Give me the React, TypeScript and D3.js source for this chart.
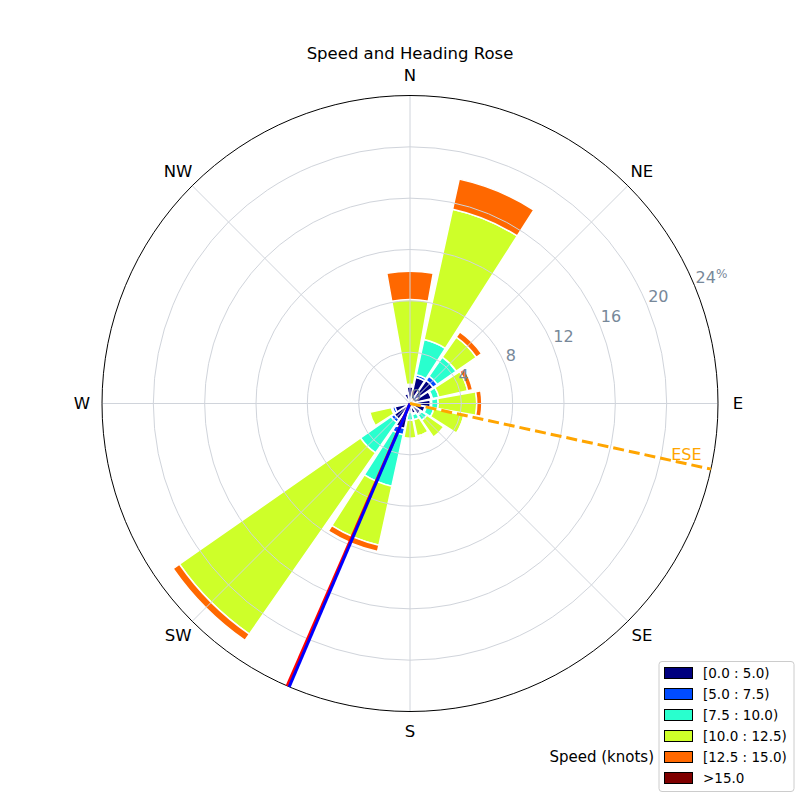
import React from 'react';
import * as d3 from 'd3';

const directions = ['N', 'NNE', 'NE', 'ENE', 'E', 'ESE', 'SE', 'SSE', 'S', 'SSW', 'SW', 'WSW', 'W', 'WNW', 'NW', 'NNW'];
const speedBins = ['[0.0 : 5.0)', '[5.0 : 7.5)', '[7.5 : 10.0)', '[10.0 : 12.5)', '[12.5 : 15.0)', '>15.0'];
const binColors = ['#00007f', '#004cff', '#29ffce', '#ceff29', '#ff6800', '#7f0000'];

// percent frequency per direction, per speed bin
const bin0 = [1.3, 2.1, 2.2, 1.7, 1.6, 1.2, 1.0, 0.8, 0.6, 2.0, 1.5, 1.2, 0.4, 0.4, 0.5, 0.8];
const bin1 = [0.1, 0.2, 0.4, 0.1, 0.1, 0.1, 0.1, 0.1, 0.1, 0.5, 0.3, 0.2, 0.0, 0.0, 0.0, 0.05];
const bin2 = [0.1, 2.8, 1.8, 0.5, 0.5, 0.6, 0.5, 0.4, 0.6, 4.1, 2.9, 0.1, 0.0, 0.0, 0.0, 0.0];
const bin3 = [6.6, 10.4, 1.9, 2.3, 3.0, 2.4, 1.6, 1.3, 1.4, 4.7, 17.2, 1.7, 0.0, 0.0, 0.0, 0.0];
const bin4 = [2.2, 2.4, 0.5, 0.4, 0.4, 0.1, 0.0, 0.1, 0.0, 0.5, 0.6, 0.0, 0.0, 0.0, 0.0, 0.0];
const bin5 = [0, 0, 0, 0, 0, 0, 0, 0, 0, 0, 0, 0, 0, 0, 0, 0];

const radialTicks = [0, 4, 8, 12, 16, 20, 24];
const compassLabels = ['N', 'NE', 'E', 'SE', 'S', 'SW', 'W', 'NW'];
const compassAngles = [0, 45, 90, 135, 180, 225, 270, 315];

const headingBlue = 203.1;
const headingRed = 203.5;
const meanDirection = 102.3;
const meanLabel = 'ESE';

const W = 800, H = 800;
const cx = 410, cy = 403.5, R = 308;

export default function App() {
  const bins = [bin0, bin1, bin2, bin3, bin4, bin5];
  const r = d3.scaleLinear().domain([0, 24]).range([0, R]);
  const toRad = (deg: number) => (deg * Math.PI) / 180;
  const pol = (deg: number, rad: number) => [cx + rad * Math.sin(toRad(deg)), cy - rad * Math.cos(toRad(deg))];
  const sector = 360 / directions.length;
  const barWidth = sector * 0.9;
  const arc = d3.arc();

  const segs: any[] = [];
  directions.forEach((d, i) => {
    let cum = 0;
    const center = i * sector;
    bins.forEach((b, j) => {
      const v = b[i];
      if (v > 0) {
        const path = arc({
          innerRadius: r(cum),
          outerRadius: r(cum + v),
          startAngle: toRad(center - barWidth / 2),
          endAngle: toRad(center + barWidth / 2),
        } as any);
        segs.push(<path key={`${i}-${j}`} d={path as string} fill={binColors[j]} stroke="#ffffff" strokeWidth={1.5} transform={`translate(${cx},${cy})`} />);
      }
      cum += v;
    });
  });

  const gridColor = '#d0d4db';
  const font = 'DejaVu Sans, sans-serif';
  const [bx, by] = pol(headingBlue, R);
  const [rx, ry] = pol(headingRed, R);
  const [mx, my] = pol(meanDirection, R);
  const [lx, ly] = pol(100.5, r(21.9));

  return (
    <svg width={W} height={H} style={{ position: 'absolute', left: 0, top: 0, background: '#fff' }} fontFamily={font}>
      <rect x={0} y={0} width={W} height={H} fill="#fff" />
      <text x={410} y={59} textAnchor="middle" fontSize={16.5}>Speed and Heading Rose</text>
      {segs}
      {radialTicks.filter(t => t > 0 && t < 24).map(t => (
        <circle key={t} cx={cx} cy={cy} r={r(t)} fill="none" stroke={gridColor} strokeWidth={1} />
      ))}
      {compassAngles.map(a => {
        const [x2, y2] = pol(a, R);
        return <line key={a} x1={cx} y1={cy} x2={x2} y2={y2} stroke={gridColor} strokeWidth={1} />;
      })}
      <circle cx={cx} cy={cy} r={R} fill="none" stroke="#000" strokeWidth={1} />
      <line x1={cx} y1={cy} x2={rx} y2={ry} stroke="#ff0000" strokeWidth={3} />
      <line x1={cx} y1={cy} x2={bx} y2={by} stroke="#0000ff" strokeWidth={3} />
      <line x1={cx} y1={cy} x2={mx} y2={my} stroke="#ffa500" strokeWidth={3} strokeDasharray="11,5" />
      <text x={lx} y={ly} textAnchor="middle" dominantBaseline="central" fontSize={16} fill="#ffa500">{meanLabel}</text>
      {compassLabels.map((l, i) => {
        const [x, y] = pol(compassAngles[i], 328);
        return <text key={l} x={x} y={y} textAnchor="middle" dominantBaseline="central" fontSize={16.5}>{l}</text>;
      })}
      {radialTicks.map(t => {
        const [x, y] = pol(67.5, r(t));
        return (
          <text key={t} x={x + 1} y={y - 3} fontSize={16} fill="#778899">
            {t}
            {t === 24 ? <tspan fontSize={12} dy={-5}>%</tspan> : null}
          </text>
        );
      })}
      <g>
        <rect x={659} y={661.5} width={135} height={130} rx={3} fill="#fff" fillOpacity={0.8} stroke="#cccccc" strokeWidth={1} />
        {speedBins.map((s, i) => {
          const yc = 673 + i * 21;
          return (
            <g key={s}>
              <rect x={664.5} y={yc - 5.5} width={28} height={11} fill={binColors[i]} stroke="#000" strokeWidth={1} />
              <text x={703} y={yc} dominantBaseline="central" fontSize={13.5}>{s}</text>
            </g>
          );
        })}
        <text x={654} y={757} textAnchor="end" dominantBaseline="central" fontSize={15}>Speed (knots)</text>
      </g>
    </svg>
  );
}
